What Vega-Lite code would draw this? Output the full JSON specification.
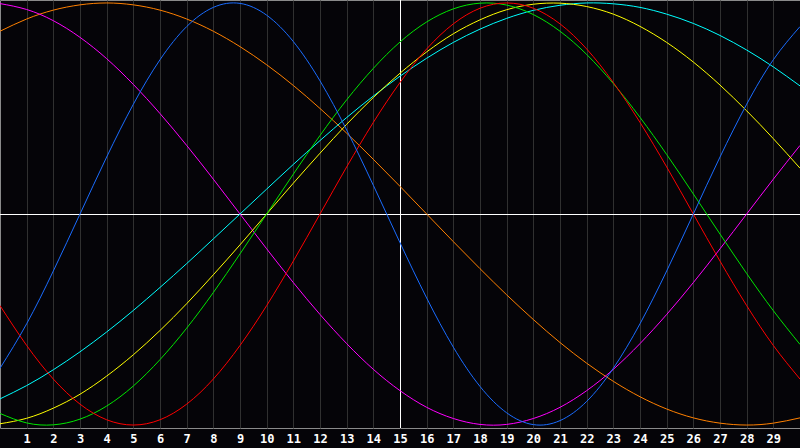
{
  "$schema": "https://vega.github.io/schema/vega-lite/v6.json",
  "width": 800,
  "height": 428,
  "autosize": {"type": "none"},
  "padding": {"left": 0, "top": 0, "right": 0, "bottom": 20},
  "background": "#050408",
  "view": {"stroke": "#8a8a8a", "strokeWidth": 1},
  "config": {
    "axisX": {
      "title": null,
      "grid": true,
      "gridColor": "#303030",
      "gridWidth": 1,
      "ticks": false,
      "tickSize": 0,
      "domain": false,
      "labelColor": "#ffffff",
      "labelFont": "DejaVu Sans Mono",
      "labelFontWeight": "bold",
      "labelFontSize": 12,
      "labelPadding": 5,
      "labelAngle": 0,
      "labelFlush": false,
      "labelOverlap": false,
      "labelBound": false
    }
  },
  "layer": [
    {
      "data": {"values": [{"day": 15}]},
      "mark": {"type": "rule", "color": "#ffffff", "strokeWidth": 1, "xOffset": 0.5},
      "encoding": {
        "x": {
          "field": "day",
          "type": "quantitative",
          "scale": {"domain": [0, 30], "nice": false},
          "axis": {
            "values": [1, 2, 3, 4, 5, 6, 7, 8, 9, 10, 11, 12, 13, 14, 15, 16, 17, 18, 19, 20, 21, 22, 23, 24, 25, 26, 27, 28, 29],
            "title": null,
            "encode": {"labels": {"update": {"align": {"value": "left"}, "dx": {"value": -5.5}}}}
          }
        }
      }
    },
    {
      "data": {"values": [{"v": 0}]},
      "mark": {"type": "rule", "color": "#ffffff", "strokeWidth": 1, "yOffset": 0.5},
      "encoding": {
        "y": {"field": "v", "type": "quantitative", "scale": {"domain": [-1.014, 1.014], "nice": false, "zero": false}, "axis": null}
      }
    },
    {
      "data": {
        "values": [
          {"day": 0, "Physical": -0.731, "Emotional": -0.434, "Intellectual": -0.945, "Intuitive": 0.997, "Aesthetic": -0.994, "Awareness": 0.866, "Spiritual": -0.876},
          {"day": 1, "Physical": -0.520, "Emotional": -0.623, "Intellectual": -0.990, "Intuitive": 0.969, "Aesthetic": -0.968, "Awareness": 0.924, "Spiritual": -0.813},
          {"day": 2, "Physical": -0.270, "Emotional": -0.782, "Intellectual": -0.999, "Intuitive": 0.916, "Aesthetic": -0.920, "Awareness": 0.966, "Spiritual": -0.738},
          {"day": 3, "Physical": 0.000, "Emotional": -0.901, "Intellectual": -0.972, "Intuitive": 0.837, "Aesthetic": -0.854, "Awareness": 0.991, "Spiritual": -0.653},
          {"day": 4, "Physical": 0.270, "Emotional": -0.975, "Intellectual": -0.910, "Intuitive": 0.736, "Aesthetic": -0.768, "Awareness": 1.000, "Spiritual": -0.559},
          {"day": 5, "Physical": 0.520, "Emotional": -1.000, "Intellectual": -0.815, "Intuitive": 0.614, "Aesthetic": -0.667, "Awareness": 0.991, "Spiritual": -0.457},
          {"day": 6, "Physical": 0.731, "Emotional": -0.975, "Intellectual": -0.690, "Intuitive": 0.476, "Aesthetic": -0.552, "Awareness": 0.966, "Spiritual": -0.348},
          {"day": 7, "Physical": 0.888, "Emotional": -0.901, "Intellectual": -0.541, "Intuitive": 0.325, "Aesthetic": -0.425, "Awareness": 0.924, "Spiritual": -0.235},
          {"day": 8, "Physical": 0.979, "Emotional": -0.782, "Intellectual": -0.372, "Intuitive": 0.165, "Aesthetic": -0.288, "Awareness": 0.866, "Spiritual": -0.118},
          {"day": 9, "Physical": 0.998, "Emotional": -0.623, "Intellectual": -0.189, "Intuitive": 0.000, "Aesthetic": -0.146, "Awareness": 0.793, "Spiritual": 0.000},
          {"day": 10, "Physical": 0.942, "Emotional": -0.434, "Intellectual": 0.000, "Intuitive": -0.165, "Aesthetic": 0.000, "Awareness": 0.707, "Spiritual": 0.118},
          {"day": 11, "Physical": 0.817, "Emotional": -0.223, "Intellectual": 0.189, "Intuitive": -0.325, "Aesthetic": 0.146, "Awareness": 0.609, "Spiritual": 0.235},
          {"day": 12, "Physical": 0.631, "Emotional": 0.000, "Intellectual": 0.372, "Intuitive": -0.476, "Aesthetic": 0.288, "Awareness": 0.500, "Spiritual": 0.348},
          {"day": 13, "Physical": 0.398, "Emotional": 0.223, "Intellectual": 0.541, "Intuitive": -0.614, "Aesthetic": 0.425, "Awareness": 0.383, "Spiritual": 0.457},
          {"day": 14, "Physical": 0.136, "Emotional": 0.434, "Intellectual": 0.690, "Intuitive": -0.736, "Aesthetic": 0.552, "Awareness": 0.259, "Spiritual": 0.559},
          {"day": 15, "Physical": -0.136, "Emotional": 0.623, "Intellectual": 0.815, "Intuitive": -0.837, "Aesthetic": 0.667, "Awareness": 0.131, "Spiritual": 0.653},
          {"day": 16, "Physical": -0.398, "Emotional": 0.782, "Intellectual": 0.910, "Intuitive": -0.916, "Aesthetic": 0.768, "Awareness": 0.000, "Spiritual": 0.738},
          {"day": 17, "Physical": -0.631, "Emotional": 0.901, "Intellectual": 0.972, "Intuitive": -0.969, "Aesthetic": 0.854, "Awareness": -0.131, "Spiritual": 0.813},
          {"day": 18, "Physical": -0.817, "Emotional": 0.975, "Intellectual": 0.999, "Intuitive": -0.997, "Aesthetic": 0.920, "Awareness": -0.259, "Spiritual": 0.876},
          {"day": 19, "Physical": -0.942, "Emotional": 1.000, "Intellectual": 0.990, "Intuitive": -0.997, "Aesthetic": 0.968, "Awareness": -0.383, "Spiritual": 0.927},
          {"day": 20, "Physical": -0.998, "Emotional": 0.975, "Intellectual": 0.945, "Intuitive": -0.969, "Aesthetic": 0.994, "Awareness": -0.500, "Spiritual": 0.965},
          {"day": 21, "Physical": -0.979, "Emotional": 0.901, "Intellectual": 0.866, "Intuitive": -0.916, "Aesthetic": 0.999, "Awareness": -0.609, "Spiritual": 0.989},
          {"day": 22, "Physical": -0.888, "Emotional": 0.782, "Intellectual": 0.756, "Intuitive": -0.837, "Aesthetic": 0.983, "Awareness": -0.707, "Spiritual": 1.000},
          {"day": 23, "Physical": -0.731, "Emotional": 0.623, "Intellectual": 0.618, "Intuitive": -0.736, "Aesthetic": 0.947, "Awareness": -0.793, "Spiritual": 0.996},
          {"day": 24, "Physical": -0.520, "Emotional": 0.434, "Intellectual": 0.458, "Intuitive": -0.614, "Aesthetic": 0.889, "Awareness": -0.866, "Spiritual": 0.979},
          {"day": 25, "Physical": -0.270, "Emotional": 0.223, "Intellectual": 0.282, "Intuitive": -0.476, "Aesthetic": 0.813, "Awareness": -0.924, "Spiritual": 0.947},
          {"day": 26, "Physical": 0.000, "Emotional": 0.000, "Intellectual": 0.095, "Intuitive": -0.325, "Aesthetic": 0.720, "Awareness": -0.966, "Spiritual": 0.903},
          {"day": 27, "Physical": 0.270, "Emotional": -0.223, "Intellectual": -0.095, "Intuitive": -0.165, "Aesthetic": 0.611, "Awareness": -0.991, "Spiritual": 0.846},
          {"day": 28, "Physical": 0.520, "Emotional": -0.434, "Intellectual": -0.282, "Intuitive": 0.000, "Aesthetic": 0.489, "Awareness": -1.000, "Spiritual": 0.777},
          {"day": 29, "Physical": 0.731, "Emotional": -0.623, "Intellectual": -0.458, "Intuitive": 0.165, "Aesthetic": 0.357, "Awareness": -0.991, "Spiritual": 0.697},
          {"day": 30, "Physical": 0.888, "Emotional": -0.782, "Intellectual": -0.618, "Intuitive": 0.325, "Aesthetic": 0.217, "Awareness": -0.966, "Spiritual": 0.607}
        ]
      },
      "transform": [
        {"fold": ["Awareness", "Intuitive", "Spiritual", "Aesthetic", "Intellectual", "Emotional", "Physical"], "as": ["cycle", "v"]}
      ],
      "mark": {"type": "line", "strokeWidth": 1, "interpolate": "natural", "clip": true},
      "encoding": {
        "x": {
          "field": "day",
          "type": "quantitative",
          "scale": {"domain": [0, 30], "nice": false},
          "axis": {
            "values": [1, 2, 3, 4, 5, 6, 7, 8, 9, 10, 11, 12, 13, 14, 15, 16, 17, 18, 19, 20, 21, 22, 23, 24, 25, 26, 27, 28, 29],
            "title": null,
            "encode": {"labels": {"update": {"align": {"value": "left"}, "dx": {"value": -5.5}}}}
          }
        },
        "y": {"field": "v", "type": "quantitative", "scale": {"domain": [-1.014, 1.014], "nice": false, "zero": false}, "axis": null},
        "color": {
          "field": "cycle",
          "type": "nominal",
          "scale": {
            "domain": ["Physical", "Emotional", "Intellectual", "Intuitive", "Aesthetic", "Awareness", "Spiritual"],
            "range": ["#1a6cff", "#ff0000", "#00e600", "#ff00ff", "#ffff00", "#ff8000", "#00ffff"]
          },
          "legend": null
        },
        "order": {"field": "day", "type": "quantitative"}
      }
    }
  ]
}
